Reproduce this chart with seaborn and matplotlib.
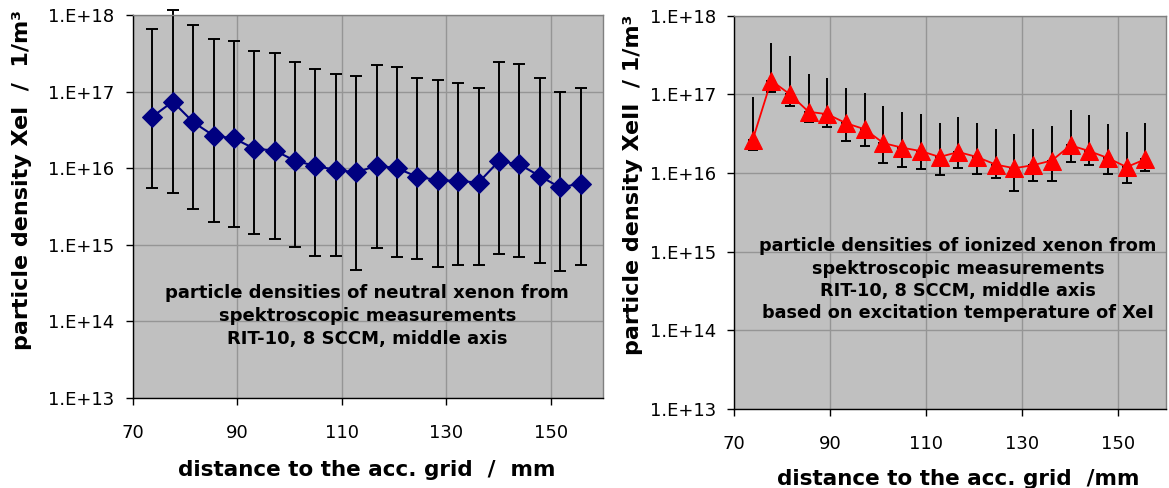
import matplotlib
matplotlib.use("Agg")
import matplotlib.pyplot as plt
import seaborn as sns
import numpy as np
import pandas as pd

# ---------------- data ----------------
distance = [73.8, 77.7, 81.6, 85.5, 89.4, 93.3, 97.2, 101.1, 105.0, 108.9, 112.8,
            116.7, 120.6, 124.5, 128.4, 132.3, 136.2, 140.1, 144.0, 147.9, 151.8, 155.7]

xe1_density = [4.7e16, 7.4e16, 4.0e16, 2.66e16, 2.45e16, 1.8e16, 1.7e16, 1.25e16, 1.07e16,
               9.5e15, 8.8e15, 1.08e16, 1.0e16, 7.7e15, 7.0e15, 6.8e15, 6.5e15, 1.24e16,
               1.12e16, 7.9e15, 5.6e15, 6.3e15]
xe1_upper = [6.6e17, 1.16e18, 7.5e17, 4.8e17, 4.6e17, 3.4e17, 3.2e17, 2.4e17, 2.0e17,
             1.7e17, 1.6e17, 2.2e17, 2.1e17, 1.5e17, 1.4e17, 1.3e17, 1.1e17, 2.45e17,
             2.3e17, 1.5e17, 1.0e17, 1.1e17]
xe1_lower = [5.5e15, 4.8e15, 2.9e15, 1.96e15, 1.7e15, 1.4e15, 1.2e15, 9.3e14, 7.2e14,
             7.2e14, 4.7e14, 9.0e14, 7.0e14, 6.6e14, 5.2e14, 5.5e14, 5.5e14, 7.6e14,
             7.0e14, 5.7e14, 4.5e14, 5.5e14]

xe2_density = [2.6e16, 1.5e17, 1.0e17, 6.0e16, 5.6e16, 4.3e16, 3.6e16, 2.4e16, 2.1e16,
               1.9e16, 1.6e16, 1.85e16, 1.6e16, 1.28e16, 1.15e16, 1.26e16, 1.44e16, 2.25e16,
               1.9e16, 1.55e16, 1.19e16, 1.5e16]
xe2_upper = [9.2e16, 4.5e17, 3.1e17, 1.8e17, 1.6e17, 1.2e17, 1.03e17, 7.1e16, 5.9e16,
             5.6e16, 4.3e16, 5.2e16, 4.3e16, 3.6e16, 3.1e16, 3.6e16, 4.0e16, 6.3e16,
             5.4e16, 4.2e16, 3.3e16, 4.3e16]
xe2_lower = [1.96e16, 1.08e17, 7.1e16, 4.4e16, 3.8e16, 2.56e16, 2.2e16, 1.36e16, 1.2e16,
             1.12e16, 9.3e15, 1.17e16, 9.7e15, 8.6e15, 5.9e15, 7.9e15, 7.9e15, 1.4e16,
             1.27e16, 9.7e15, 7.4e15, 1.07e16]

x_ticks = [70, 90, 110, 130, 150]
y_ticks = [1e13, 1e14, 1e15, 1e16, 1e17, 1e18]
y_tick_labels = ["1.E+13", "1.E+14", "1.E+15", "1.E+16", "1.E+17", "1.E+18"]

df1 = pd.DataFrame({"x": distance, "y": xe1_density, "lo": xe1_lower, "hi": xe1_upper})
df2 = pd.DataFrame({"x": distance, "y": xe2_density, "lo": xe2_lower, "hi": xe2_upper})

# ---------------- figure ----------------
sns.set_style("ticks")
plt.rcParams["font.family"] = ["DejaVu Sans"]
plt.rcParams["text.color"] = "black"
plt.rcParams["axes.labelcolor"] = "black"
plt.rcParams["xtick.color"] = "black"
plt.rcParams["ytick.color"] = "black"

W, H = 1169, 488
fig = plt.figure(figsize=(W / 100, H / 100), dpi=100)


def px_axes(x0, y0, x1, y1):
    return fig.add_axes([x0 / W, 1 - y1 / H, (x1 - x0) / W, (y1 - y0) / H])


ax1 = px_axes(132.5, 15, 603, 398)
ax2 = px_axes(734.3, 15.7, 1166, 409)

GRID = "#959595"
BG = "#c0c0c0"

for ax in (ax1, ax2):
    ax.set_facecolor(BG)
    ax.set_yscale("log")
    ax.set_xlim(70, 160)
    ax.set_ylim(1e13, 1e18)
    ax.set_yticks(y_ticks)
    ax.set_yticklabels(y_tick_labels)
    ax.yaxis.set_minor_locator(matplotlib.ticker.NullLocator())
    ax.set_xticks(x_ticks)
    ax.set_xticklabels([str(t) for t in x_ticks])
    ax.grid(True, which="major", color=GRID, linewidth=1.0)
    ax.set_axisbelow(True)
    ax.tick_params(axis="y", direction="out", length=5, width=1, pad=8,
                   labelsize=13, colors="black")
    ax.tick_params(axis="x", direction="out", length=5, width=1, pad=14,
                   labelsize=13, colors="black")
    for s in ("left", "bottom"):
        ax.spines[s].set_color("black")
        ax.spines[s].set_linewidth(1.0)
    for s in ("top", "right"):
        ax.spines[s].set_visible(True)
        ax.spines[s].set_color("#808080")
        ax.spines[s].set_linewidth(1.0)

# ---- left panel: neutral xenon ----
ax1.errorbar(df1["x"], df1["y"], yerr=[df1["y"] - df1["lo"], df1["hi"] - df1["y"]],
             fmt="none", ecolor="black", elinewidth=1.4, capsize=4, capthick=1.4,
             zorder=2, clip_on=False)
sns.lineplot(data=df1, x="x", y="y", ax=ax1, color="#000080", linewidth=1.5,
             marker="D", markersize=10.5, markeredgecolor="#000080",
             markerfacecolor="#000080", zorder=3, legend=False)
ax1.set_xlabel("")
ax1.set_ylabel("")
ax1.text(0.499, 0.214,
         "particle densities of neutral xenon from\nspektroscopic measurements\nRIT-10, 8 SCCM, middle axis",
         transform=ax1.transAxes, ha="center", va="center", fontsize=13,
         fontweight="bold", linespacing=1.35, color="black")

# ---- right panel: ionized xenon ----
ax2.errorbar(df2["x"], df2["y"], yerr=[np.zeros(len(df2)), df2["hi"] - df2["y"]],
             fmt="none", ecolor="black", elinewidth=1.4, capsize=0, zorder=2)
ax2.errorbar(df2["x"], df2["y"], yerr=[df2["y"] - df2["lo"], np.zeros(len(df2))],
             fmt="none", ecolor="black", elinewidth=1.4, capsize=3.6, capthick=1.4,
             zorder=2)
sns.lineplot(data=df2, x="x", y="y", ax=ax2, color="#ff0000", linewidth=1.3,
             marker="^", markersize=13, markeredgecolor="#ff0000",
             markerfacecolor="#ff0000", zorder=3, legend=False)
ax2.set_xlabel("")
ax2.set_ylabel("")
ax2.text(0.518, 0.329,
         "particle densities of ionized xenon from\nspektroscopic measurements\nRIT-10, 8 SCCM, middle axis\nbased on excitation temperature of XeI",
         transform=ax2.transAxes, ha="center", va="center", fontsize=12.7,
         fontweight="bold", linespacing=1.3, color="black")

# ---- axis titles ----
fig.text(22 / W, 1 - 180 / H, "particle density XeI  /  1/m³", rotation=90,
         ha="center", va="center", fontsize=16, fontweight="bold")
fig.text(633 / W, 1 - 185 / H, "particle density XeII  / 1/m³", rotation=90,
         ha="center", va="center", fontsize=16, fontweight="bold")
fig.text(367 / W, 1 - 470 / H, "distance to the acc. grid  /  mm",
         ha="center", va="center", fontsize=15.5, fontweight="bold")
fig.text(958 / W, 1 - 479 / H, "distance to the acc. grid  /mm",
         ha="center", va="center", fontsize=15.5, fontweight="bold")

fig.savefig("out.png", dpi=100, facecolor="white")
